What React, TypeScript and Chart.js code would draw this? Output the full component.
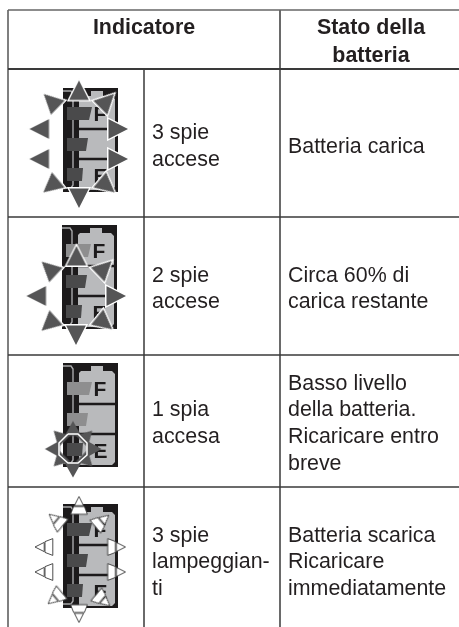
import React, { useEffect, useRef } from "react";
import { Chart, registerables } from "chart.js";

Chart.register(...registerables);

const WIDTH = 459;
const HEIGHT = 627;
const FONT = '"Liberation Sans", Arial, sans-serif';
const INK = "#231f20";

// table rules
const headerTop = 10;
const rowEdges = [69, 217, 355, 487];
const tableLeft = 8;
const indicatorSplit = 144;
const statusSplit = 280;

// battery icons: top-left corner and which lamps are lit (top, middle, bottom)
const iconOrigins = [[63, 88], [62, 225], [63, 363], [63, 504]];
const iconLit = [[true, true, true], [false, true, true], [false, false, true], [true, true, true]];

const iconBody = [[16, 10], [18, 8], [28, 8], [28, 3], [40, 3], [40, 8], [49, 8], [52, 11], [52, 99], [49, 102], [16, 102]];
const iconLamps = [
  [[4, 19], [29, 19], [26, 32], [4, 32]],
  [[4, 50], [25, 50], [23, 63], [4, 63]],
  [[4, 80], [20, 80], [19, 93], [4, 93]],
];
const iconWire = [[0, 3], [8, 3], [10, 6], [10, 97], [8, 100], [0, 100]];
const iconDividers = [41, 71];

// [x, y, rotation in degrees]
const solidSpikes = [
  [79, 90.5, 0], [79, 198, 180], [39.5, 129, 270], [39.5, 159, 270], [118, 129, 90], [118, 159, 90],
  [51, 101, -46], [107, 101, 45], [51, 186, 230], [107, 186, 130],
  [76.5, 256, 0], [76, 335, 180], [36.5, 296, 270], [116, 296, 90],
  [49, 268.5, -47], [104.5, 268, 46], [49, 324, 228], [104.5, 323, 129],
];
const starSpikes = [
  [73, 428.5, 0], [73, 470, 180], [52.5, 449, 270], [94, 449, 90],
  [59, 436, -45], [87, 436, 45], [59, 461, 225], [87, 461, 135],
];
const hollowSpikes = [
  [79, 505.5, 0], [79, 613.5, 180], [44, 547, 270], [44, 572, 270], [116.5, 547, 90], [116.5, 572, 90],
  [56, 520, -50], [102, 521, 50], [55, 598, 230], [103, 600, 130],
];
const starRing = [
  [68, 434], [78, 434], [87, 443], [87, 455], [78, 463], [68, 463], [59, 455], [59, 443], [68, 434],
];

// [text, x, baseline y]
const headerLabels: [string, number, number][] = [
  ["Indicatore", 144, 34],
  ["Stato della", 371, 34],
  ["batteria", 371, 62],
];
const indicatorLabels: [string, number, number][] = [
  ["3 spie", 152, 139.3],
  ["accese", 152, 166],
  ["2 spie", 152, 281.7],
  ["accese", 152, 308],
  ["1 spia", 152, 415.7],
  ["accesa", 152, 443],
  ["3 spie", 152, 541.7],
  ["lampeggian-", 152, 568],
  ["ti", 152, 595],
];
const statusLabels: [string, number, number][] = [
  ["Batteria carica", 288, 153],
  ["Circa 60% di", 288, 281.7],
  ["carica restante", 288, 308],
  ["Basso livello", 288, 390],
  ["della batteria.", 288, 416],
  ["Ricaricare entro", 288, 443],
  ["breve", 288, 470],
  ["Batteria scarica", 288, 541.7],
  ["Ricaricare", 288, 568],
  ["immediatamente", 288, 595],
];

function spriteCanvas(size: number, draw: (c: CanvasRenderingContext2D) => void) {
  const canvas = document.createElement("canvas");
  canvas.width = size;
  canvas.height = size;
  const c = canvas.getContext("2d")!;
  c.translate(size / 2, size / 2);
  draw(c);
  return canvas;
}

function tracePolygon(c: CanvasRenderingContext2D, pts: number[][]) {
  c.beginPath();
  pts.forEach(([x, y], i) => (i ? c.lineTo(x, y) : c.moveTo(x, y)));
  c.closePath();
}

function makeSolidSpike() {
  return spriteCanvas(36, (c) => {
    tracePolygon(c, [[0, -11.5], [11, 10.3], [-11, 10.3]]);
    c.fillStyle = "#555556";
    c.fill();
    c.strokeStyle = "#ffffff";
    c.lineWidth = 1.4;
    c.stroke();
  });
}

function makeStarSpike() {
  return spriteCanvas(24, (c) => {
    tracePolygon(c, [[0, -7.5], [8.5, 7.5], [-8.5, 7.5]]);
    c.fillStyle = "#555556";
    c.fill();
  });
}

function makeHollowSpike() {
  return spriteCanvas(28, (c) => {
    c.fillStyle = "#ffffff";
    c.strokeStyle = "#3a3a3a";
    c.lineWidth = 0.9;
    tracePolygon(c, [[0, -9], [4.6, 0.2], [-4.6, 0.2]]);
    c.fill();
    c.stroke();
    tracePolygon(c, [[-5.4, 1], [5.4, 1], [8.4, 8.8], [-8.4, 8.8]]);
    c.fill();
    c.stroke();
  });
}

const drawingPlugin = {
  id: "tableDrawing",
  beforeDatasetsDraw(chart: any) {
    const { ctx, scales } = chart;
    const px = (x: number) => scales.x.getPixelForValue(x);
    const py = (y: number) => scales.y.getPixelForValue(y);
    const local = (o: number[], pts: number[][]) => pts.map(([x, y]) => [px(o[0] + x), py(o[1] + y)]);
    ctx.save();
    iconOrigins.forEach((o, i) => {
      ctx.fillStyle = "#1c1a1b";
      tracePolygon(ctx, local(o, [[0, 0], [55, 0], [55, 104], [0, 104]]));
      ctx.fill();
      ctx.fillStyle = "#b9babc";
      tracePolygon(ctx, local(o, iconBody));
      ctx.fill();
      ctx.fillStyle = "#1c1a1b";
      iconDividers.forEach((d) => {
        tracePolygon(ctx, local(o, [[16, d - 1.2], [55, d - 1.2], [55, d + 1.2], [16, d + 1.2]]));
        ctx.fill();
      });
      ctx.strokeStyle = "#a8a9ab";
      ctx.lineWidth = 1.4;
      ctx.beginPath();
      local(o, iconWire).forEach(([x, y], k) => (k ? ctx.lineTo(x, y) : ctx.moveTo(x, y)));
      ctx.stroke();
      ctx.fillStyle = "#1c1a1b";
      ctx.textAlign = "left";
      ctx.textBaseline = "alphabetic";
      ctx.font = `bold 21px ${FONT}`;
      ctx.fillText("F", px(o[0] + 30.5), py(o[1] + 33));
      ctx.fillText("E", px(o[0] + 30.5), py(o[1] + 95));
      iconLamps.forEach((lamp, k) => {
        ctx.fillStyle = iconLit[i][k] ? "#4a4a4b" : "#8e8e8f";
        tracePolygon(ctx, local(o, lamp));
        ctx.fill();
      });
    });
    ctx.restore();
  },
  afterDatasetsDraw(chart: any) {
    const { ctx, scales } = chart;
    const put = (labels: [string, number, number][]) =>
      labels.forEach(([t, x, y]) => ctx.fillText(t, scales.x.getPixelForValue(x), scales.y.getPixelForValue(y)));
    ctx.save();
    ctx.fillStyle = INK;
    ctx.textBaseline = "alphabetic";
    ctx.textAlign = "center";
    ctx.font = `bold 21.4px ${FONT}`;
    put(headerLabels);
    ctx.textAlign = "left";
    ctx.font = `21.4px ${FONT}`;
    put(indicatorLabels);
    put(statusLabels);
    ctx.restore();
  },
};

const rule = (pts: number[][], color = "#3a3a3a", width = 1.5, order = 5) => ({
  type: "scatter",
  showLine: true,
  data: pts.map(([x, y]) => ({ x, y })),
  borderColor: color,
  borderWidth: width,
  pointRadius: 0,
  fill: false,
  order,
});

const spikes = (list: number[][], sprite: HTMLCanvasElement, order = 2) => ({
  type: "scatter",
  data: list.map(([x, y]) => ({ x, y })),
  pointStyle: sprite,
  pointRadius: 10,
  pointRotation: list.map((s) => s[2]),
  order,
});

export default function App() {
  const ref = useRef<HTMLCanvasElement>(null);
  useEffect(() => {
    const datasets: any[] = [
      rule([[tableLeft, headerTop], [WIDTH, headerTop]], "#666666", 1.6),
      ...rowEdges.map((y) => rule([[tableLeft, y], [WIDTH, y]], "#3a3a3a", y === rowEdges[0] ? 2 : 1.4)),
      rule([[tableLeft, headerTop], [tableLeft, HEIGHT]], "#555555", 1.5),
      rule([[indicatorSplit, rowEdges[0]], [indicatorSplit, HEIGHT]]),
      rule([[statusSplit, headerTop], [statusSplit, HEIGHT]]),
      spikes(solidSpikes, makeSolidSpike()),
      spikes(starSpikes, makeStarSpike()),
      spikes(hollowSpikes, makeHollowSpike()),
      rule(starRing, "#ffffff", 1.5, 1),
    ];
    const chart = new Chart(ref.current!, {
      type: "scatter",
      data: { datasets },
      plugins: [drawingPlugin],
      options: {
        animation: false,
        responsive: false,
        layout: { padding: 0, autoPadding: false },
        plugins: { legend: { display: false }, tooltip: { enabled: false }, title: { display: false } },
        scales: {
          x: { type: "linear", display: false, min: 0, max: WIDTH },
          y: { type: "linear", display: false, min: 0, max: HEIGHT, reverse: true },
        },
      },
    } as any);
    return () => chart.destroy();
  }, []);
  return (
    <canvas
      ref={ref}
      width={WIDTH}
      height={HEIGHT}
      style={{ position: "fixed", left: 0, top: 0, width: WIDTH, height: HEIGHT, background: "#fff" }}
    />
  );
}
